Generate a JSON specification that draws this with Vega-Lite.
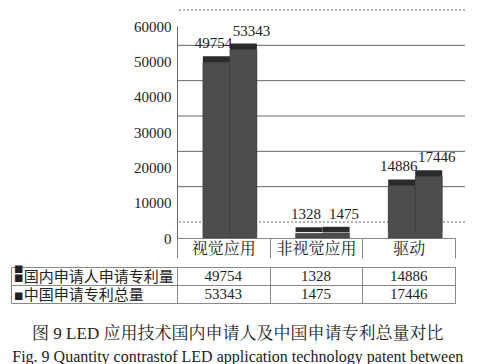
{
  "$schema": "https://vega.github.io/schema/vega-lite/v6.json",
  "background": "white",
  "padding": {"left": 6, "top": 9, "right": 0, "bottom": 0},
  "spacing": 0,
  "config": {
    "font": "Liberation Serif, Noto Serif CJK SC, Noto Sans CJK SC",
    "axis": {"labelFont": "Liberation Serif, Noto Serif CJK SC, Noto Sans CJK SC", "labelColor": "#222"},
    "text": {"font": "Liberation Serif, Noto Serif CJK SC, Noto Sans CJK SC"}
  },
  "datasets": {
    "patents": [
      {"category": "视觉应用", "series": "国内申请人申请专利量", "value": 49754},
      {"category": "视觉应用", "series": "中国申请专利总量", "value": 53343},
      {"category": "非视觉应用", "series": "国内申请人申请专利量", "value": 1328},
      {"category": "非视觉应用", "series": "中国申请专利总量", "value": 1475},
      {"category": "驱动", "series": "国内申请人申请专利量", "value": 14886},
      {"category": "驱动", "series": "中国申请专利总量", "value": 17446}
    ],
    "gridlines": [{"v": 0, "kind": "dot"}, {"v": 10000, "kind": "solid"}, {"v": 20000, "kind": "solid"}, {"v": 30000, "kind": "solid"}, {"v": 40000, "kind": "solid"}, {"v": 50000, "kind": "solid"}, {"v": 60000, "kind": "dot"}]
  },
  "title": {
    "text": "图 9    LED 应用技术国内申请人及中国申请专利总量对比",
    "subtitle": "Fig. 9    Quantity contrastof LED application technology patent between",
    "orient": "bottom",
    "anchor": "middle",
    "font": "Liberation Serif, Noto Serif CJK SC, Noto Sans CJK SC",
    "subtitleFont": "Liberation Serif",
    "fontSize": 17,
    "subtitleFontSize": 16,
    "fontWeight": "normal",
    "color": "#222",
    "subtitleColor": "#222",
    "subtitlePadding": 6,
    "offset": 22
  },
  "vconcat": [
    {
      "width": 278,
      "height": 212,
      "view": {"stroke": null},
      "encoding": {
        "y": {
          "field": "v",
          "type": "quantitative",
          "scale": {"domain": [0, 60000]},
          "axis": {
            "title": null,
            "values": [0, 10000, 20000, 30000, 40000, 50000, 60000],
            "format": "d",
            "grid": false,
            "ticks": false,
            "domain": true,
            "domainColor": "#666",
            "labelPadding": 6,
            "labelFontSize": 15,
            "labelOverlap": false
          }
        }
      },
      "layer": [
        {
          "data": {"name": "gridlines"},
          "transform": [{"filter": "datum.kind == 'solid'"}],
          "mark": {"type": "rule", "color": "#666", "strokeWidth": 1, "strokeDash": [6, 0], "xOffset": 10, "yOffset": -16}
        },
        {
          "data": {"name": "gridlines"},
          "transform": [{"filter": "datum.kind == 'dot'"}],
          "mark": {"type": "rule", "color": "#666", "strokeWidth": 1, "strokeDash": [2, 2], "xOffset": 10, "yOffset": -16}
        },
        {
          "data": {"name": "patents"},
          "mark": {"type": "bar", "color": "#2b2b2b", "xOffset": 8, "yOffset": -6, "y2Offset": -6},
          "encoding": {
            "x": {
              "field": "category",
              "type": "nominal",
              "sort": ["视觉应用", "非视觉应用", "驱动"],
              "scale": {"paddingInner": 0, "paddingOuter": 0},
              "axis": {
                "title": null,
                "labelAngle": 0,
                "domain": true,
                "domainColor": "#888",
                "ticks": true,
                "tickBand": "extent",
                "tickSize": 20,
                "tickColor": "#888",
                "labelPadding": -18,
                "labelBaseline": "top",
                "labelFontSize": 16,
                "grid": false
              }
            },
            "xOffset": {
              "field": "series",
              "type": "nominal",
              "sort": ["国内申请人申请专利量", "中国申请专利总量"],
              "scale": {"paddingInner": 0, "paddingOuter": 0.716, "align": 0.67}
            },
            "y": {"field": "value", "type": "quantitative"}
          }
        },
        {
          "data": {"name": "patents"},
          "mark": {"type": "bar", "color": "#4d4d4d", "stroke": "#3a3a3a", "strokeWidth": 0.5},
          "encoding": {
            "x": {"field": "category", "type": "nominal", "sort": ["视觉应用", "非视觉应用", "驱动"]},
            "xOffset": {"field": "series", "type": "nominal", "sort": ["国内申请人申请专利量", "中国申请专利总量"]},
            "y": {"field": "value", "type": "quantitative"}
          }
        },
        {
          "data": {"name": "patents"},
          "transform": [{"filter": "datum.series == '国内申请人申请专利量'"}],
          "mark": {"type": "text", "fontSize": 15, "color": "#222", "baseline": "alphabetic", "dy": -14, "dx": -3, "font": "Liberation Serif"},
          "encoding": {
            "x": {"field": "category", "type": "nominal", "sort": ["视觉应用", "非视觉应用", "驱动"]},
            "xOffset": {"field": "series", "type": "nominal", "sort": ["国内申请人申请专利量", "中国申请专利总量"]},
            "y": {"field": "value", "type": "quantitative"},
            "text": {"field": "value", "type": "quantitative", "format": "d"}
          }
        },
        {
          "data": {"name": "patents"},
          "transform": [{"filter": "datum.series == '中国申请专利总量'"}],
          "mark": {"type": "text", "fontSize": 15, "color": "#222", "baseline": "alphabetic", "dy": -14, "dx": 8, "font": "Liberation Serif"},
          "encoding": {
            "x": {"field": "category", "type": "nominal", "sort": ["视觉应用", "非视觉应用", "驱动"]},
            "xOffset": {"field": "series", "type": "nominal", "sort": ["国内申请人申请专利量", "中国申请专利总量"]},
            "y": {"field": "value", "type": "quantitative"},
            "text": {"field": "value", "type": "quantitative", "format": "d"}
          }
        }
      ]
    },
    {
      "width": 278,
      "height": 36,
      "view": {"stroke": "#888"},
      "data": {"name": "patents"},
      "mark": {"type": "text", "fontSize": 15, "color": "#222", "font": "Liberation Serif"},
      "encoding": {
        "x": {
          "field": "category",
          "type": "nominal",
          "sort": ["视觉应用", "非视觉应用", "驱动"],
          "scale": {"paddingInner": 0, "paddingOuter": 0},
          "axis": {"orient": "top", "title": null, "labels": false, "ticks": false, "domain": false, "grid": true, "tickBand": "extent", "gridColor": "#888"}
        },
        "y": {
          "field": "series",
          "type": "nominal",
          "sort": ["国内申请人申请专利量", "中国申请专利总量"],
          "scale": {"paddingInner": 0, "paddingOuter": 0},
          "axis": {
            "title": null,
            "offset": 166,
            "domain": true,
            "domainColor": "#888",
            "ticks": true,
            "tickSize": -166,
            "tickColor": "#888",
            "tickBand": "extent",
            "grid": true,
            "gridColor": "#888",
            "labelAlign": "left",
            "labelPadding": 164,
            "labelFont": "DejaVu Sans, Noto Sans CJK SC",
            "labelFontSize": 15,
            "labelLimit": 170,
            "labelExpr": "'▪' + datum.label"
          }
        },
        "text": {"field": "value", "type": "quantitative", "format": "d"}
      }
    }
  ]
}
